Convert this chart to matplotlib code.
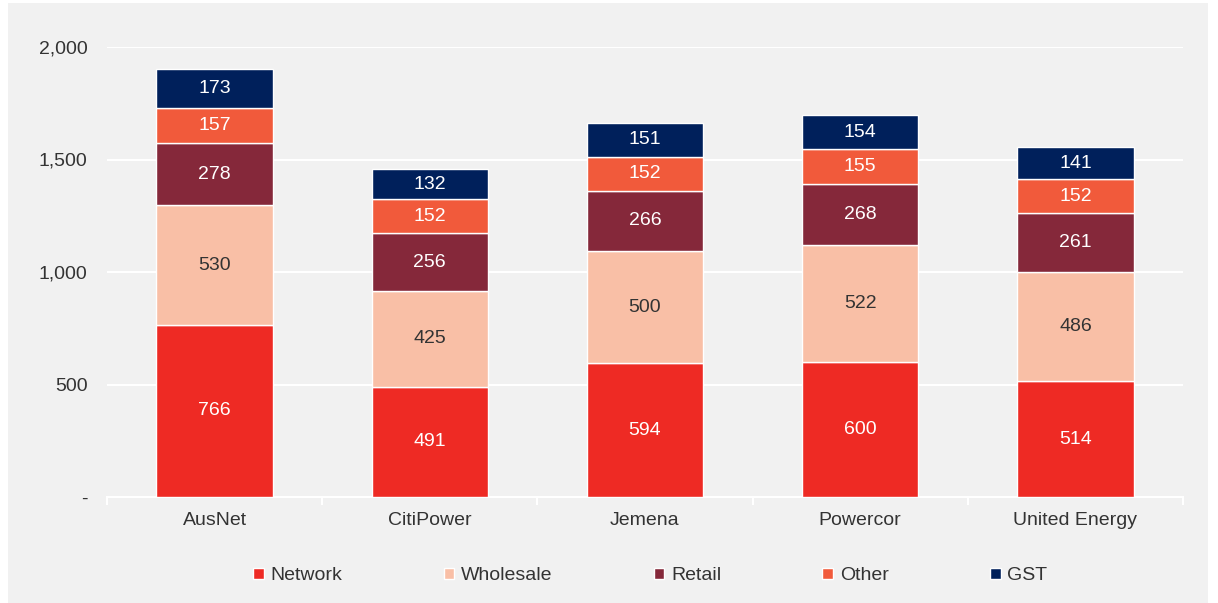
import matplotlib.pyplot as plt
import numpy as np
from matplotlib.patches import Rectangle

plt.rcParams['font.family'] = ['Liberation Sans', 'DejaVu Sans']

companies = ["AusNet", "CitiPower", "Jemena", "Powercor", "United Energy"]
network = [766, 491, 594, 600, 514]
wholesale = [530, 425, 500, 522, 486]
retail = [278, 256, 266, 268, 261]
other = [157, 152, 152, 155, 152]
gst = [173, 132, 151, 154, 141]

series = [("Network", network, "#EE2A24", "white"),
          ("Wholesale", wholesale, "#F9BFA6", "#333333"),
          ("Retail", retail, "#85283A", "white"),
          ("Other", other, "#F15A3B", "white"),
          ("GST", gst, "#00205B", "white")]

bg = "#F1F1F1"
fs = 14
fig = plt.figure(figsize=(12.18, 6.03), dpi=100, facecolor="white")
fig.patches.append(Rectangle((8 / 1218, 0), 1200 / 1218, 600 / 603,
                             transform=fig.transFigure, facecolor=bg,
                             edgecolor="none", zorder=-10))
ax = fig.add_axes([107 / 1218, 1 - 497 / 603, 1076 / 1218, 450 / 603])
ax.set_facecolor(bg)

x = np.arange(len(companies))
bottom = np.zeros(len(companies))
for name, vals, color, tcol in series:
    vals = np.array(vals)
    ax.bar(x, vals, 0.54, bottom=bottom, color=color, edgecolor="white",
           linewidth=1, label=name, zorder=3)
    for xi, b, v in zip(x, bottom, vals):
        ax.text(xi, b + v / 2, str(v), ha="center", va="center",
                color=tcol, fontsize=fs, zorder=4)
    bottom += vals

ax.set_xlim(-0.5, len(companies) - 0.5)
ax.set_ylim(0, 2000)
ax.set_yticks([0, 500, 1000, 1500, 2000])
ax.set_yticklabels(["-", "500", "1,000", "1,500", "2,000"])
ax.yaxis.grid(True, color="white", linewidth=1.5, zorder=0)
ax.set_axisbelow(True)
ax.tick_params(axis="y", length=0, pad=14, labelsize=fs, labelcolor="#333333")

ax.set_xticks(x)
ax.set_xticklabels(companies)
ax.set_xticks(np.arange(-0.5, len(companies)), minor=True)
ax.tick_params(axis="x", which="major", length=0, pad=11, labelsize=fs,
               labelcolor="#333333")
ax.tick_params(axis="x", which="minor", length=6, color="white", width=1.5)

for s in ["top", "right", "left"]:
    ax.spines[s].set_visible(False)
ax.spines["bottom"].set_color("white")
ax.spines["bottom"].set_linewidth(1.5)

leg = ax.legend(loc="center", bbox_to_anchor=(0.505, -0.175), ncol=5,
                frameon=False, fontsize=fs, handlelength=0.55,
                handleheight=0.55, handletextpad=0.35, columnspacing=5.2)
for t in leg.get_texts():
    t.set_color("#333333")

fig.savefig("out.png", dpi=100, facecolor="white")
